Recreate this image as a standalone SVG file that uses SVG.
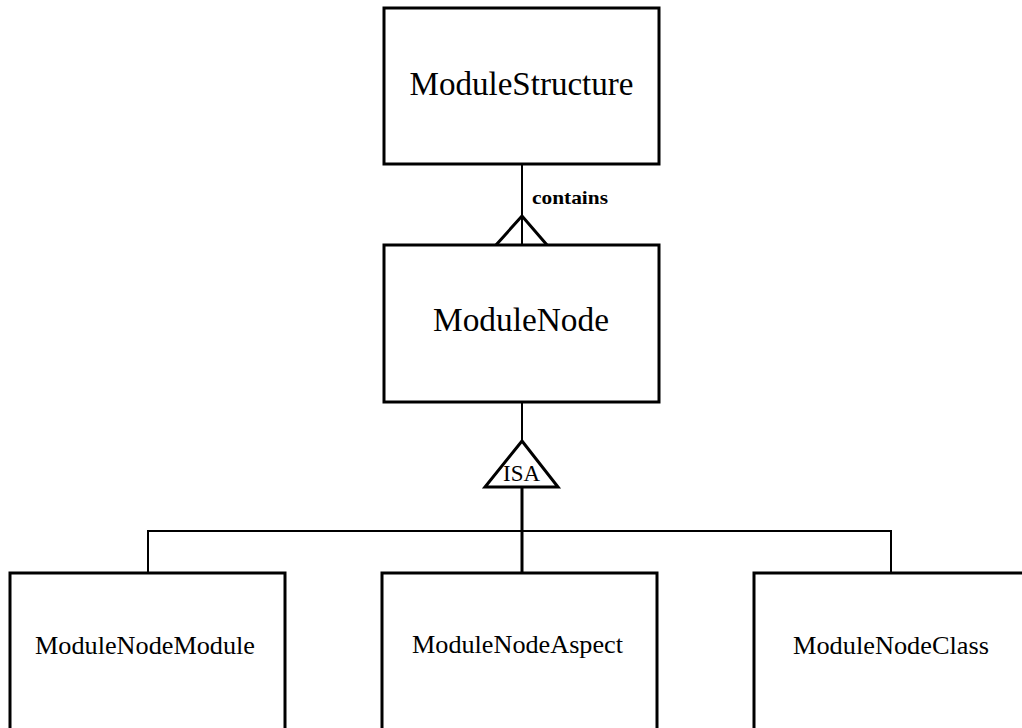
<svg xmlns="http://www.w3.org/2000/svg" width="1022" height="728" viewBox="0 0 1022 728">
  <style>
    .box { fill: #ffffff; stroke: #000000; stroke-width: 3; }
    .lbl { font-family: "Liberation Serif", "Times New Roman", serif; fill: #000000; text-anchor: middle; }
    .big { font-size: 33px; }
    .small { font-size: 25px; }
    .wire { fill: none; stroke: #000000; stroke-width: 2; }
    .heavy { fill: none; stroke: #000000; stroke-width: 3; }
  </style>
  <rect width="1022" height="728" fill="#ffffff"/>

  <g id="connectors">
    <!-- ModuleStructure contains ModuleNode (crow's foot at the many end) -->
    <line class="wire" x1="522" y1="164" x2="522" y2="245"/>
    <polyline class="heavy" points="496,245 522,216 547,245"/>
    <text x="570" y="204" class="lbl" font-size="19" font-weight="bold" textLength="76" lengthAdjust="spacingAndGlyphs">contains</text>

    <!-- ISA generalisation -->
    <line class="wire" x1="522" y1="402" x2="522" y2="441"/>
    <line class="heavy" x1="522" y1="487" x2="522" y2="573"/>
    <polyline class="wire" points="148,573 148,531 891,531 891,573"/>
    <polygon points="522,441 485,487 558,487" fill="#ffffff" stroke="#000000" stroke-width="3" stroke-linejoin="miter"/>
    <text x="521.5" y="481" class="lbl" font-size="23" textLength="37" lengthAdjust="spacingAndGlyphs">ISA</text>
  </g>

  <g id="ModuleStructure">
    <rect class="box" x="384" y="8" width="275" height="156"/>
    <text x="521.5" y="95" class="lbl big" textLength="224" lengthAdjust="spacingAndGlyphs">ModuleStructure</text>
  </g>

  <g id="ModuleNode">
    <rect class="box" x="384" y="245" width="275" height="157"/>
    <text x="521" y="331" class="lbl big" textLength="176" lengthAdjust="spacingAndGlyphs">ModuleNode</text>
  </g>

  <g id="ModuleNodeModule">
    <rect class="box" x="10" y="573" width="275" height="170"/>
    <text x="145" y="654" class="lbl small" textLength="220" lengthAdjust="spacingAndGlyphs">ModuleNodeModule</text>
  </g>

  <g id="ModuleNodeAspect">
    <rect class="box" x="382" y="573" width="275" height="170"/>
    <text x="517.5" y="653" class="lbl small" textLength="211" lengthAdjust="spacingAndGlyphs">ModuleNodeAspect</text>
  </g>

  <g id="ModuleNodeClass">
    <rect class="box" x="754" y="573" width="275" height="170"/>
    <text x="891" y="654" class="lbl small" textLength="196" lengthAdjust="spacingAndGlyphs">ModuleNodeClass</text>
  </g>
</svg>
